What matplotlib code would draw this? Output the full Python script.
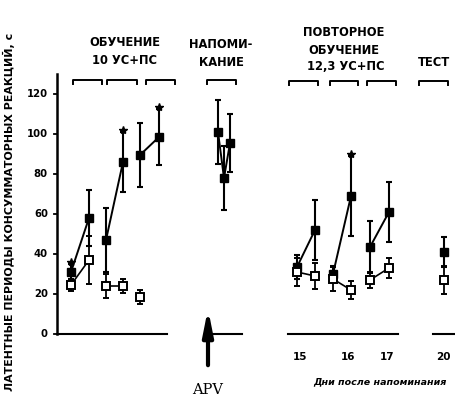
import matplotlib.pyplot as plt
import numpy as np

# trial positions along the x axis (pixel-like units)
x_filled = [71, 89, 106, 123, 140, 159, 218, 224, 230, 297, 315, 333, 351, 370, 389, 444]
grp_filled = [0, 0, 1, 1, 2, 2, 3, 3, 3, 4, 4, 5, 5, 6, 6, 7]
filled_mean = [31, 58, 47, 86, 89.5, 98.5, 101, 78, 95.5, 33.5, 52, 30, 69, 43.5, 61, 41]
filled_err = [4, 14, 16, 15, 16, 14, 16, 16, 14.5, 6, 15, 4, 20, 13, 15, 7.5]
star_idx = [0, 3, 5, 12]

x_open = [71, 89, 106, 123, 140, 297, 315, 333, 351, 370, 389, 444]
grp_open = [0, 0, 1, 1, 2, 4, 4, 5, 5, 6, 6, 7]
open_mean = [24.5, 37, 24, 24, 18.5, 31, 29, 27.5, 22, 27, 33, 27]
open_err = [3, 12, 6, 3.5, 3.5, 7, 6.5, 6, 4.5, 4, 5, 7]

yticks = [0, 20, 40, 60, 80, 100, 120]
day_labels = ["15", "16", "17", "20"]
day_x = [300, 348, 387, 443]

fig = plt.figure(figsize=(4.56, 4.01), dpi=100)
ax = fig.add_axes([0, 0, 1, 1])
ax.set_xlim(0, 456)
ax.set_ylim(-33.5, 167)
ax.axis('off')

bold = dict(fontweight='heavy', color='black', family='DejaVu Sans')

# y axis
ax.plot([57, 57], [0, 130], color='black', lw=1.8)
for t in yticks:
    ax.plot([54, 57], [t, t], color='black', lw=1.3)
    ax.text(48, t, str(t), ha='right', va='center', fontsize=7.3, **bold)
ax.text(9, 61, "ЛАТЕНТНЫЕ ПЕРИОДЫ КОНСУММАТОРНЫХ РЕАКЦИЙ, с", rotation=90,
        ha='center', va='center', fontsize=7.9, **bold)

# broken x axis
for a, b in [(57, 167), (208, 242), (288, 398), (433, 456)]:
    ax.plot([a, b], [0, 0], color='black', lw=1.5)
for lab, xx in zip(day_labels, day_x):
    ax.text(xx, -11.5, lab, ha='center', va='center', fontsize=7.5, **bold)
ax.text(380, -24, "Дни после напоминания", ha='center', va='center',
        fontsize=6.8, fontstyle='italic', **bold)

# APV arrow
ax.annotate("", xy=(208, 14), xytext=(208, -17),
            arrowprops=dict(arrowstyle='-|>,head_width=0.3,head_length=1.5',
                            color='black', lw=3))
ax.text(208, -28, "APV", ha='center', va='center', fontsize=10.5, family='DejaVu Serif')

# headers and brackets
hdr = dict(ha='center', va='center', fontsize=8.3, **bold)
ax.text(125, 146, "ОБУЧЕНИЕ", **hdr)
ax.text(125, 137, "10 УС+ПС", **hdr)
ax.text(221, 145, "НАПОМИ-", **hdr)
ax.text(221, 136, "КАНИЕ", **hdr)
ax.text(344, 151, "ПОВТОРНОЕ", **hdr)
ax.text(344, 142, "ОБУЧЕНИЕ", **hdr)
ax.text(346, 133.5, "12,3 УС+ПС", **hdr)
ax.text(434, 135.5, "ТЕСТ", **hdr)
for a, b, yb in [(73, 102, 127), (107, 137, 127), (146, 175, 127), (207, 236, 127),
                 (289, 318, 126.5), (330, 358, 126.5), (367, 396, 126.5), (419, 448, 126.5)]:
    ax.plot([a, a, b, b], [yb - 2, yb, yb, yb - 2], color='black', lw=1.4)

# connecting lines
xf = np.array(x_filled); yf = np.array(filled_mean); gf = np.array(grp_filled)
xo = np.array(x_open); yo = np.array(open_mean); go = np.array(grp_open)
for g in np.unique(gf):
    m = gf == g
    ax.plot(xf[m], yf[m], color='black', lw=1.4, zorder=2)
for g in np.unique(go):
    m = go == g
    ax.plot(xo[m], yo[m], color='black', lw=1.2, zorder=2)

ax.errorbar(x_filled, filled_mean, yerr=filled_err, fmt='s', color='black',
            ms=6.3, ecolor='black', elinewidth=1.5, capsize=2.5, capthick=1.5, zorder=3)
ax.errorbar(x_open, open_mean, yerr=open_err, fmt='s', mfc='white', mec='black',
            mew=1.4, color='black', ms=5.5, ecolor='black', elinewidth=1.3,
            capsize=2.5, capthick=1.3, zorder=4)

for i in star_idx:
    ax.plot(x_filled[i], filled_mean[i] + filled_err[i] + 1, marker='*',
            color='black', ms=6, zorder=5)

fig.savefig("out.png", dpi=100)
